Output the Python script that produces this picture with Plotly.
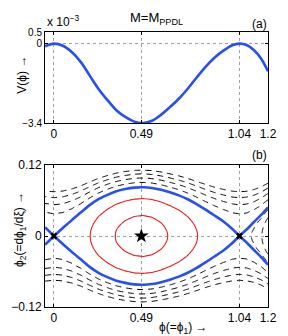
import numpy as np
import plotly.graph_objects as go

# ---- data ----
phi = [-0.05, 0.0, 0.05, 0.10, 0.15, 0.20, 0.25, 0.30, 0.35, 0.40, 0.45, 0.50,
       0.55, 0.60, 0.65, 0.70, 0.75, 0.80, 0.85, 0.90, 0.95, 1.00, 1.04, 1.08,
       1.12, 1.16, 1.20]
V_e3 = [-0.11, 0.0, -0.09, -0.36, -0.78, -1.36, -1.94, -2.42, -2.85, -3.14, -3.34, -3.40,
        -3.30, -3.05, -2.72, -2.36, -1.93, -1.45, -0.99, -0.60, -0.30, -0.07, 0.0, -0.06,
        -0.27, -0.62, -1.18]
E_closed = [-0.0028, -0.0014]          # red closed orbits
E_open = [0.0007, 0.0014, 0.0021, 0.0028]  # dashed orbits outside separatrix
E_right = [-0.0007, -0.0002]           # dashed orbits reflected beyond phi=1.04
x_ticks = [0, 0.49, 1.04, 1.2]
x_ticktext = ["0", "0.49", "1.04", "1.2"]
ya_ticks = [-3.4, 0, 0.5]
ya_ticktext = ["\u22123.4", "0", "0.5"]
yb_ticks = [-0.12, 0, 0.12]
yb_ticktext = ["\u22120.12", "0", "0.12"]
phi_min = 0.49
saddles = [0.0, 1.04]

BLUE = "rgb(40,80,240)"
RED = "rgb(235,30,30)"
FONT = "Liberation Sans, Arial, sans-serif"

phi_a = np.array(phi)
V = np.array(V_e3) * 1e-3

fig = go.Figure()

# ---- panel (a): potential ----
fig.add_trace(go.Scatter(x=phi, y=V_e3, mode="lines", line=dict(color=BLUE, width=2.6, shape="spline"),
                         xaxis="x", yaxis="y", hoverinfo="skip"))

# ---- panel (b): phase portrait ----
yg = np.linspace(-0.13, 0.13, 261)
Z = 0.5 * yg[:, None] ** 2 + V[None, :]

fig.add_trace(go.Contour(x=phi, y=yg, z=Z, xaxis="x2", yaxis="y2", showscale=False, hoverinfo="skip",
                         contours=dict(coloring="none", start=min(E_open), end=max(E_open),
                                       size=E_open[1] - E_open[0]),
                         line=dict(color="black", width=1, dash="6px,5px", smoothing=1.3)))
mask = phi_a >= 1.04
fig.add_trace(go.Contour(x=phi_a[mask], y=yg, z=Z[:, mask], xaxis="x2", yaxis="y2", showscale=False,
                         hoverinfo="skip",
                         contours=dict(coloring="none", start=min(E_right), end=max(E_right),
                                       size=E_right[1] - E_right[0]),
                         line=dict(color="black", width=1, dash="6px,5px", smoothing=1.3)))
fig.add_trace(go.Contour(x=phi, y=yg, z=Z, xaxis="x2", yaxis="y2", showscale=False, hoverinfo="skip",
                         contours=dict(coloring="none", start=min(E_closed), end=max(E_closed),
                                       size=E_closed[1] - E_closed[0]),
                         line=dict(color=RED, width=1.1, smoothing=1.3)))

# separatrix, drawn segment by segment between saddles
sep = np.sqrt(np.clip(-2 * V, 0, None))
i0 = phi.index(0.0)
i1 = phi.index(1.04)
for a, b in [(0, i0), (i0, i1), (i1, len(phi) - 1)]:
    for sgn in (1, -1):
        fig.add_trace(go.Scatter(x=phi[a:b + 1], y=list(sgn * sep[a:b + 1]), mode="lines",
                                 line=dict(color=BLUE, width=2.6, shape="spline", smoothing=0.8),
                                 xaxis="x2", yaxis="y2", hoverinfo="skip"))

fig.add_trace(go.Scatter(x=saddles, y=[0, 0], mode="markers",
                         marker=dict(symbol="x", size=6, color="black"),
                         xaxis="x2", yaxis="y2", hoverinfo="skip"))
fig.add_trace(go.Scatter(x=[phi_min], y=[0], mode="markers",
                         marker=dict(symbol="star", size=11, color="black"),
                         xaxis="x2", yaxis="y2", hoverinfo="skip"))

axis_common = dict(showline=True, linecolor="black", linewidth=1, mirror="ticks",
                   ticks="inside", ticklen=3, tickcolor="black", automargin=False,
                   showgrid=True, gridcolor="#a0a0a0", griddash="dot", gridwidth=1,
                   zeroline=False)
tf12 = dict(family=FONT, size=12, color="black")
tf10 = dict(family=FONT, size=10, color="black")

fig.update_layout(
    width=288, height=336, autosize=False,
    margin=dict(l=37, r=28, t=24, b=37, pad=0, autoexpand=False),
    paper_bgcolor="white", plot_bgcolor="white",
    showlegend=False,
    xaxis=dict(domain=[0, 1], range=[-0.05, 1.2], tickvals=x_ticks, ticktext=x_ticktext,
               anchor="y", tickfont=tf12, **axis_common),
    yaxis=dict(domain=[0.669, 1], range=[-3.4, 0.5], tickvals=ya_ticks, ticktext=ya_ticktext,
               anchor="x", tickfont=tf10, **axis_common),
    xaxis2=dict(domain=[0, 1], range=[-0.05, 1.2], tickvals=x_ticks, ticktext=x_ticktext,
                anchor="y2", tickfont=tf12, **axis_common),
    yaxis2=dict(domain=[0, 0.5164], range=[-0.12, 0.12], tickvals=yb_ticks, ticktext=yb_ticktext,
                anchor="x2", tickfont=tf12, **axis_common),
    font=dict(family=FONT, size=12, color="black"),
)

ann = [
    dict(text="M=M<sub>PPDL</sub>", x=0.5, y=1.05, size=13, xanchor="center", angle=0),
    dict(text="(a)", x=0.96, y=1.03, size=12, xanchor="center", angle=0),
    dict(text="(b)", x=0.96, y=0.553, size=12, xanchor="center", angle=0),
    dict(text="x 10<sup>\u22123</sup>", x=0.0, y=1.04, size=12, xanchor="left", angle=0),
    dict(text="V(\u03d5) \u2192", x=-0.103, y=0.845, size=12, xanchor="center", angle=-90),
    dict(text="\u03d5<sub>2</sub>(=d\u03d5<sub>1</sub>/d\u03be) \u2192", x=-0.112, y=0.28, size=12,
         xanchor="center", angle=-90),
    dict(text="\u03d5(=\u03d5<sub>1</sub>) \u2192", x=0.62, y=-0.076, size=12, xanchor="center", angle=0),
]
for a in ann:
    fig.add_annotation(text=a["text"], x=a["x"], y=a["y"], xref="paper", yref="paper",
                       xanchor=a["xanchor"], yanchor="middle", showarrow=False, textangle=a["angle"],
                       font=dict(family=FONT, size=a["size"], color="black"))

fig.write_html("out.html")
